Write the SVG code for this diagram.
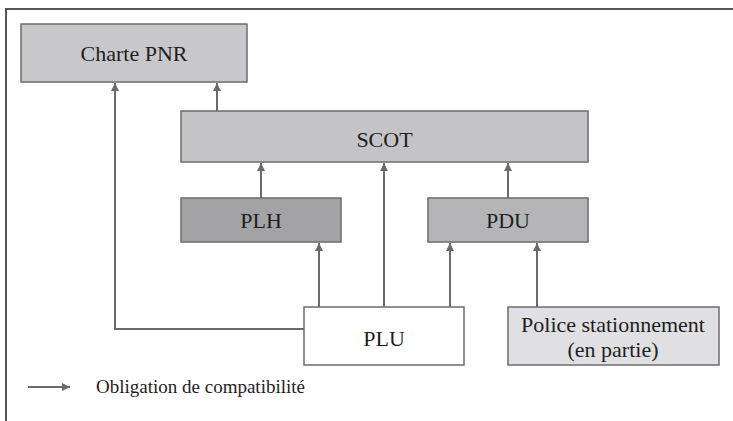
<svg xmlns="http://www.w3.org/2000/svg" width="733" height="421" viewBox="0 0 733 421">
<style>
.box{stroke:#6c6c6e;stroke-width:1.5}
.lbl{font-family:'Liberation Serif','Times New Roman',Times,'DejaVu Serif',serif;font-size:22px;fill:#1e1e1e;text-anchor:middle}
.leg{font-family:'Liberation Serif','Times New Roman',Times,'DejaVu Serif',serif;font-size:19px;fill:#1e1e1e}
.con{fill:none;stroke:#6a6a6a;stroke-width:2}
</style>
<defs>
<marker id="ah" viewBox="0 0 10 10" refX="10" refY="5" markerWidth="4" markerHeight="4" markerUnits="strokeWidth" orient="auto">
<path d="M0,0 L10,5 L0,10 Z" fill="#6a6a6a"/>
</marker>
</defs>
<rect width="733" height="421" fill="#ffffff"/>
<g id="frame"><path d="M6,421 V9 H733" fill="none" stroke="#555557" stroke-width="2"/></g>
<g id="connectors">
<path class="con" d="M217,111 V83" marker-end="url(#ah)"/>
<path class="con" d="M304,329 H115 V83" marker-end="url(#ah)"/>
<path class="con" d="M261,198 V163" marker-end="url(#ah)"/>
<path class="con" d="M384,307 V163" marker-end="url(#ah)"/>
<path class="con" d="M508,198 V163" marker-end="url(#ah)"/>
<path class="con" d="M319,307 V243" marker-end="url(#ah)"/>
<path class="con" d="M450,307 V243" marker-end="url(#ah)"/>
<path class="con" d="M537,307 V243" stroke-width="1.5" marker-end="url(#ah)"/>
</g>
<g id="charte"><rect class="box" x="21" y="24" width="226" height="58" fill="#c8c8ca"/><text class="lbl" x="134" y="60.5">Charte PNR</text></g>
<g id="scot"><rect class="box" x="181" y="111" width="407" height="51" fill="#c4c4c7"/><text class="lbl" x="384.5" y="146.5">SCOT</text></g>
<g id="plh"><rect class="box" x="181" y="198" width="160" height="44" fill="#a3a3a5"/><text class="lbl" x="261" y="227.5">PLH</text></g>
<g id="pdu"><rect class="box" x="428" y="198" width="160" height="44" fill="#b5b5b8"/><text class="lbl" x="508" y="228">PDU</text></g>
<g id="plu"><rect class="box" x="304" y="307" width="160" height="58" fill="#ffffff"/><text class="lbl" x="384" y="345.5">PLU</text></g>
<g id="police"><rect class="box" x="508" y="307" width="211" height="58" fill="#e0e0e2"/><text class="lbl" x="613" y="332">Police stationnement</text><text class="lbl" x="613" y="357">(en partie)</text></g>
<g id="legend">
<path class="con" d="M28,387 H70" stroke-width="1.5" marker-end="url(#ah)"/>
<text class="leg" x="96" y="393">Obligation de compatibilité</text>
</g>
</svg>
